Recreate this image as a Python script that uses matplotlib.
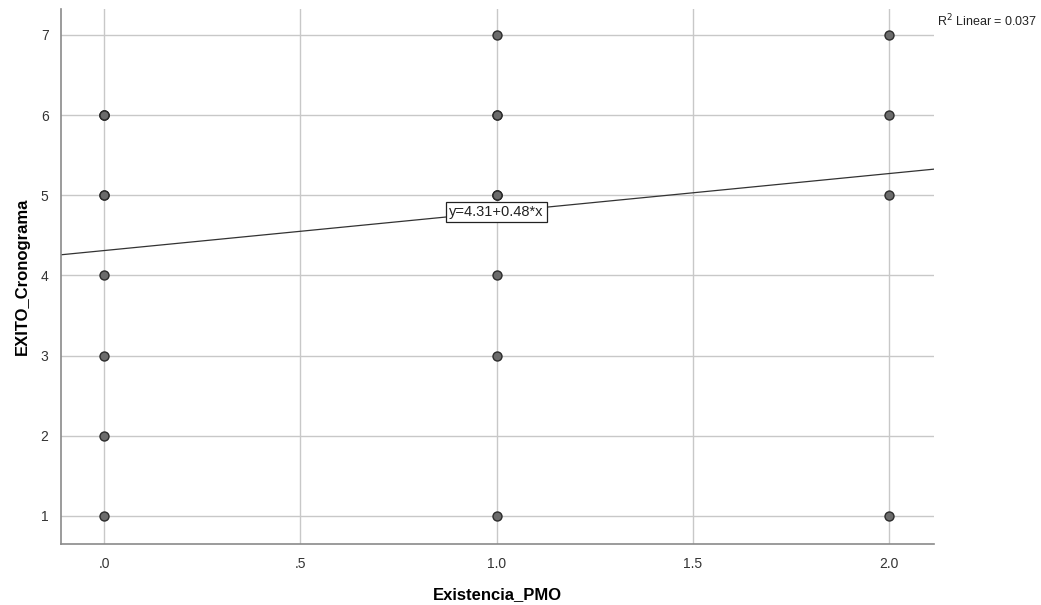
import matplotlib
matplotlib.use("Agg")
import matplotlib.pyplot as plt
import numpy as np

plt.rcParams['font.family'] = ['Liberation Sans', 'DejaVu Sans']

# Data (duplicates included where markers look heavier)
pmo = [0, 0, 0, 0, 0, 0, 0, 0, 0,
       1, 1, 1, 1, 1, 1, 1, 1, 1,
       2, 2, 2, 2]
exito = [6, 6, 6, 5, 5, 4, 3, 2, 1,
         7, 6, 6, 5, 5, 5, 4, 3, 1,
         7, 6, 5, 1]
intercept = 4.31
slope = 0.48
r2_text = "R$^2$ Linear = 0.037"
eq_text = "y=4.31+0.48*x"
xticks = [0.0, 0.5, 1.0, 1.5, 2.0]
xticklabels = [".0", ".5", "1.0", "1.5", "2.0"]
yticks = [1, 2, 3, 4, 5, 6, 7]

fig = plt.figure(figsize=(10.41, 6.05), dpi=100)
ax = fig.add_axes([0.0586, 0.1008, 0.8386, 0.884])
xlim = (-0.11, 2.115)
ax.set_xlim(*xlim)
ax.set_ylim(0.65, 7.32)

ax.set_xticks(xticks)
ax.set_xticklabels(xticklabels)
ax.set_yticks(yticks)
ax.grid(True, color="#c8c8c8", linewidth=1.0)
ax.set_axisbelow(True)
for s in ["top", "right"]:
    ax.spines[s].set_visible(False)
for s in ["left", "bottom"]:
    ax.spines[s].set_color("#8a8a8a")
    ax.spines[s].set_linewidth(1.2)
ax.tick_params(length=0, labelsize=10, colors="#333333", pad=9)

ax.scatter(pmo, exito, s=42, facecolor="#6b6b6b", edgecolor="#2b2b2b",
           linewidth=1.0, zorder=3)

xs = np.array(xlim)
ax.plot(xs, intercept + slope * xs, color="#333333", linewidth=0.9, zorder=2)

ax.text(1.0, intercept + slope * 1.0, eq_text, ha="center", va="center",
        fontsize=10.5, color="#222222", zorder=4,
        bbox=dict(boxstyle="square,pad=0.2", facecolor="white",
                  edgecolor="#222222", linewidth=0.9))

ax.set_xlabel("Existencia_PMO", fontsize=12, fontweight="bold", labelpad=12)
ax.set_ylabel("EXITO_Cronograma", fontsize=12, fontweight="bold", labelpad=8)

fig.text(0.9005, 0.966, r2_text, fontsize=9, color="#222222", ha="left", va="center")

fig.savefig("out.png", dpi=100)
